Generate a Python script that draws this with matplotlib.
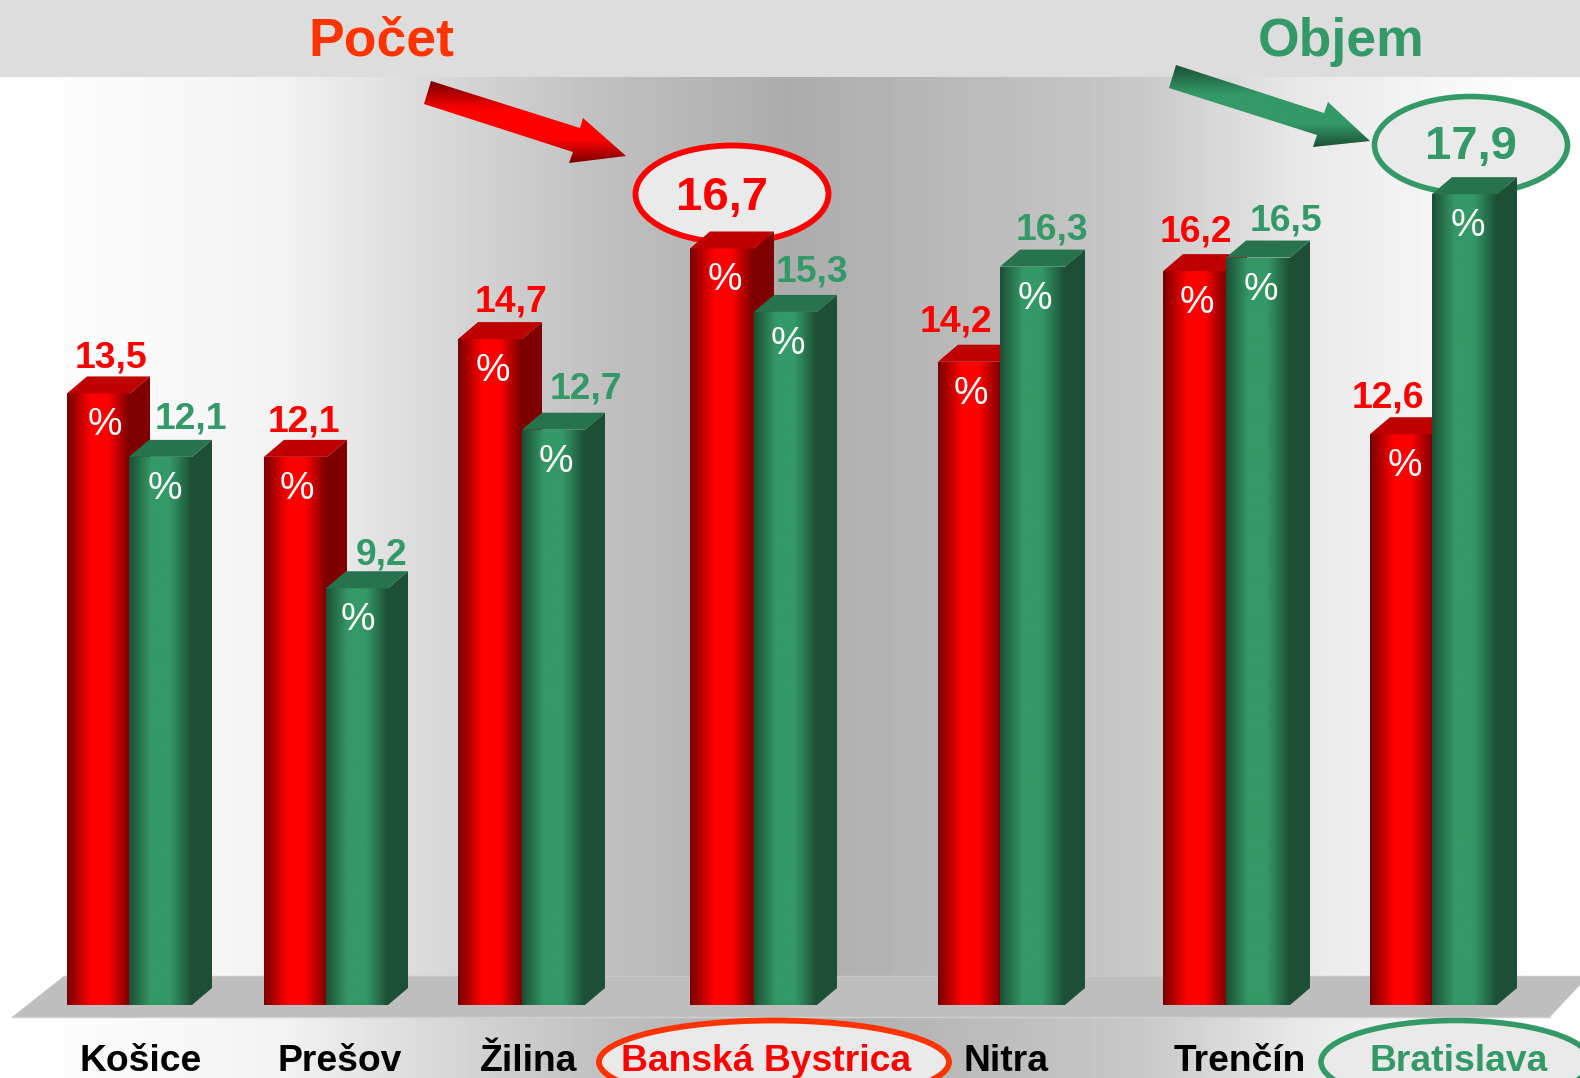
import numpy as np
import matplotlib
matplotlib.use('Agg')
import matplotlib.pyplot as plt
from matplotlib.patches import Ellipse, Polygon
from matplotlib.colors import LinearSegmentedColormap

# Values
regions = ['Košice', 'Prešov', 'Žilina', 'Banská Bystrica', 'Nitra', 'Trenčín', 'Bratislava']
pocet = [13.5, 12.1, 14.7, 16.7, 14.2, 16.2, 12.6]
objem = [12.1, 9.2, 12.7, 15.3, 16.3, 16.5, 17.9]
value_text_pocet = ['13,5', '12,1', '14,7', '16,7', '14,2', '16,2', '12,6']
value_text_objem = ['12,1', '9,2', '12,7', '15,3', '16,3', '16,5', '17,9']

# Layout, in pixels of the 1580x1078 picture
W, H = 1580, 1078
BASE_Y = 1005
PX_PER_UNIT = 45.3
DEPTH_X = 20
DEPTH_Y = 17
red_left = [67, 264, 458, 690, 938, 1163, 1370]
green_left = [129, 326, 522, 754, 1000, 1226, 1432]
red_width = [63, 63, 64, 64, 63, 64, 63]
green_width = [63, 62, 63, 63, 65, 64, 65]
red_label_x = [111, 304, 511, 722, 956, 1196, 1388]
green_label_x = [191, 382, 586, 812, 1052, 1286, 1471]
red_label_gap = [9, 8, 11, 0, 13, 13, 10]
green_label_gap = [11, 7, 14, 13, 10, 10, 0]
label_left = [80, 277, 480, 621, 963, 1174, 1369]
pct_shift_red = [6, 1, 3, 3, 1, 2, 3]
pct_shift_green = [4, 1, 2, 2, 2, 3, 3]

RED = '#FF0000'
RED_DARK = '#780000'
RED_SIDE = '#800000'
RED_TOP = '#BE0000'
GREEN = '#339966'
GREEN_DARK = '#1C4F35'
GREEN_SIDE = '#1C4F35'
GREEN_TOP = '#27734E'
ORANGE = '#FF3300'

plt.rcParams['font.family'] = ['Liberation Sans', 'DejaVu Sans']

red_cmap = LinearSegmentedColormap.from_list('r', [(0, RED_DARK), (0.38, RED), (0.65, RED), (1, RED_DARK)])
green_cmap = LinearSegmentedColormap.from_list('g', [(0, GREEN_DARK), (0.35, GREEN), (0.65, GREEN), (1, GREEN_DARK)])

fig = plt.figure(figsize=(W / 100, H / 100), dpi=100)

# Back layer in pixel coordinates: wall, banner, floor, ellipses, arrows
bg = fig.add_axes([0, 0, 1, 1])
bg.set_xlim(0, W)
bg.set_ylim(H, 0)
bg.axis('off')

xs = np.arange(W)
grey = np.interp(xs, [0, 50, 70, 280, 400, 600, 790, 1140, 1300, 1480, 1540, W],
                 [255, 255, 252, 243, 222, 192, 172, 200, 232, 250, 255, 255])
bg.imshow(grey[np.newaxis, :], extent=(0, W, H, 0), cmap='gray', vmin=0, vmax=255, aspect='auto', zorder=0)
bg.set_xlim(0, W)
bg.set_ylim(H, 0)

bg.add_patch(Polygon([(0, 0), (W, 0), (W, 77), (0, 77)], fc='#DDDDDD', ec='none', zorder=1))
bg.add_patch(Polygon([(64, 976), (W, 976), (W, 985), (1550, 1017), (12, 1017)],
                     fc='#BEBEBE', ec='none', zorder=1))
bg.plot([64, W], [976, 976], color='#C8C8C8', lw=1, zorder=1)
bg.plot([12, 1550], [1017, 1017], color='#D0D0D0', lw=1, zorder=1)


def draw_ellipse(cx, cy, w, h, edge, lw):
    bg.add_patch(Ellipse((cx, cy), w, h, fc='#EAEAEA', ec=edge, lw=lw, zorder=2))


draw_ellipse(732, 194, 193, 97, RED, 4.2)
draw_ellipse(1471, 145, 193, 97, GREEN, 4)
draw_ellipse(774, 1062, 350, 83, ORANGE, 4.2)
draw_ellipse(1456, 1062, 270, 83, GREEN, 4)


def draw_arrow(points, dark, mid):
    ys = [p[1] for p in points]
    xvals = [p[0] for p in points]
    top, bottom = min(ys), max(ys)
    cmap = LinearSegmentedColormap.from_list('a', [(0, dark), (0.35, mid), (0.72, mid), (1, dark)])
    im = bg.imshow(np.linspace(0, 1, 128)[:, np.newaxis], extent=(min(xvals), max(xvals), bottom, top),
                   cmap=cmap, aspect='auto', zorder=3)
    shape = Polygon(points, fc='none', ec='none', transform=bg.transData)
    bg.add_patch(shape)
    im.set_clip_path(shape)
    bg.set_xlim(0, W)
    bg.set_ylim(H, 0)


draw_arrow([(431, 81), (580, 128), (583, 118), (626, 156), (569, 163), (573, 152), (424, 104)], RED_DARK, RED)
draw_arrow([(1176, 65), (1324, 113), (1328, 102), (1370, 141), (1313, 147), (1317, 135), (1169, 88)], GREEN_DARK, GREEN)

# Bars layer: x in pixels, y in the chart's own values
ax = fig.add_axes([0, 0, 1, 1])
ax.patch.set_alpha(0)
ax.set_xlim(0, W)
ax.set_ylim(-(H - BASE_Y) / PX_PER_UNIT, BASE_Y / PX_PER_UNIT)
ax.axis('off')
dy = DEPTH_Y / PX_PER_UNIT


def draw_bar(left, width, value, cmap, side, top, order):
    bar = ax.bar(left, value, width, align='edge', color=side, zorder=order)[0]
    right = left + width
    im = ax.imshow(np.linspace(0, 1, 128)[np.newaxis, :], extent=(left, right, 0, value),
                   cmap=cmap, aspect='auto', zorder=order + 0.1)
    im.set_clip_path(bar)
    ax.add_patch(Polygon([(right, 0), (right + DEPTH_X, dy), (right + DEPTH_X, value + dy), (right, value)],
                         fc=side, ec='none', zorder=order + 0.1))
    ax.add_patch(Polygon([(left, value), (left + DEPTH_X, value + dy), (right + DEPTH_X, value + dy), (right, value)],
                         fc=top, ec='none', zorder=order + 0.1))


for i in range(len(regions)):
    draw_bar(red_left[i], red_width[i], pocet[i], red_cmap, RED_SIDE, RED_TOP, 3 + i * 2)
    draw_bar(green_left[i], green_width[i], objem[i], green_cmap, GREEN_SIDE, GREEN_TOP, 4 + i * 2)
ax.set_xlim(0, W)
ax.set_ylim(-(H - BASE_Y) / PX_PER_UNIT, BASE_Y / PX_PER_UNIT)

for i, region in enumerate(regions):
    # white % marks on the bars
    ax.text(red_left[i] + red_width[i] / 2 + pct_shift_red[i], pocet[i] - 32 / PX_PER_UNIT, '%',
            color='white', fontsize=28, ha='center', va='center', zorder=30)
    ax.text(green_left[i] + green_width[i] / 2 + pct_shift_green[i], objem[i] - 32 / PX_PER_UNIT, '%',
            color='white', fontsize=28, ha='center', va='center', zorder=30)

    # value labels, the two circled maxima are bigger and sit inside the ellipses
    if pocet[i] == max(pocet):
        ax.text(red_label_x[i], (BASE_Y - 210) / PX_PER_UNIT, value_text_pocet[i], color=RED,
                fontsize=34, fontweight='bold', ha='center', va='baseline', zorder=30)
    else:
        ax.text(red_label_x[i], pocet[i] + dy + red_label_gap[i] / PX_PER_UNIT, value_text_pocet[i], color=RED,
                fontsize=26.8, fontweight='bold', ha='center', va='baseline', zorder=30)
    if objem[i] == max(objem):
        ax.text(green_label_x[i], (BASE_Y - 159) / PX_PER_UNIT, value_text_objem[i], color=GREEN,
                fontsize=34, fontweight='bold', ha='center', va='baseline', zorder=30)
    else:
        ax.text(green_label_x[i], objem[i] + dy + green_label_gap[i] / PX_PER_UNIT, value_text_objem[i], color=GREEN,
                fontsize=26.8, fontweight='bold', ha='center', va='baseline', zorder=30)

    # region names under the floor
    name_color = 'black'
    if region == 'Banská Bystrica':
        name_color = RED
    if region == 'Bratislava':
        name_color = GREEN
    ax.text(label_left[i], -(1071 - BASE_Y) / PX_PER_UNIT, region, color=name_color,
            fontsize=26.8, fontweight='bold', ha='left', va='baseline', zorder=30)

# Headings in the banner
ax.text(381, (BASE_Y - 56) / PX_PER_UNIT, 'Počet', color=ORANGE, fontsize=38.5, fontweight='bold',
        ha='center', va='baseline', zorder=30)
ax.text(1341, (BASE_Y - 56) / PX_PER_UNIT, 'Objem', color=GREEN, fontsize=38.5, fontweight='bold',
        ha='center', va='baseline', zorder=30)

fig.savefig('out.png', dpi=100)
